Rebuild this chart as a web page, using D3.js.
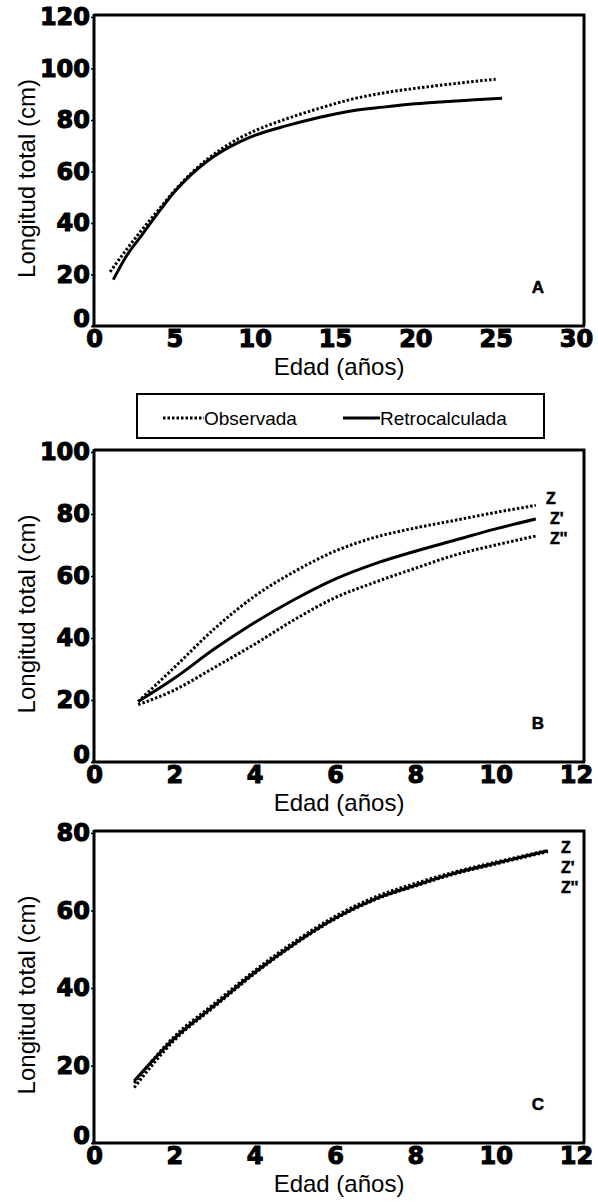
<!DOCTYPE html>
<html>
<head>
<meta charset="utf-8">
<script src="https://cdn.jsdelivr.net/npm/d3@7"></script>
<style>
  body { margin: 0; background: #fff; }
  svg { display: block; }
  .tick text { font-family: "DejaVu Sans", sans-serif; font-weight: bold; font-size: 24px; fill: #000; stroke: #000; stroke-width: 1.1px; }
  .title { font-family: "Liberation Sans", Arial, sans-serif; font-size: 24px; fill: #000; }
  .tag { font-family: "Liberation Sans", Arial, sans-serif; font-weight: bold; fill: #000; stroke: #000; stroke-width: 0.5px; }
</style>
</head>
<body>
<div id="chart"></div>
<script>
// Panel A: observada vs retrocalculada
const ageA_obs = [1, 2, 3, 4, 5, 6, 7, 8, 9, 10, 12, 14, 16, 18, 20, 22, 24, 25];
const lenA_obs = [21, 29.5, 37.5, 45, 52.5, 59, 64.5, 69, 72.8, 75.8, 80.5, 84.5, 88, 90.5, 92.3, 93.8, 95.2, 95.8];
const ageA_ret = [1.2, 2, 3, 4, 5, 6, 7, 8, 9, 10, 12, 14, 16, 18, 20, 22, 24, 25.4];
const lenA_ret = [18, 27, 35.5, 44, 52, 58.5, 63.8, 68, 71.3, 74, 77.8, 81, 83.5, 85, 86.3, 87.2, 88, 88.4];

// Panel B: Z, Z', Z''
const ageB = [1.1, 2, 3, 4, 5, 6, 7, 8, 9, 10, 11];
const lenB_z = [19.5, 30.5, 43, 53.5, 61.5, 68, 72.5, 75.5, 78, 80.5, 82.8];
const lenB_z1 = [19.5, 27, 36.5, 45, 52.5, 59, 64, 68, 71.6, 75.2, 78.4];
const lenB_z2 = [18.5, 23.2, 30.5, 38, 46, 53, 58, 62.5, 66.8, 70, 72.9];

// Panel C: Z, Z', Z'' (nearly identical)
const ageC = [1, 2, 3, 4, 5, 6, 7, 8, 9, 10, 11.3];
const lenC_z = [15.5, 27.5, 36, 44.5, 52, 58.5, 63.5, 67, 70, 72.5, 75.5];
const lenC_z1 = [16, 27, 35.5, 44, 51.5, 58, 63, 66.5, 69.7, 72.2, 75.4];
const lenC_z2 = [14.3, 26.5, 35.2, 43.7, 51.3, 57.8, 62.8, 66.3, 69.5, 72, 75.2];

const ticksA_x = [0, 5, 10, 15, 20, 25, 30];
const ticksA_y = [0, 20, 40, 60, 80, 100, 120];
const ticksBC_x = [0, 2, 4, 6, 8, 10, 12];
const ticksB_y = [0, 20, 40, 60, 80, 100];
const ticksC_y = [0, 20, 40, 60, 80];

const legendLabels = ["Observada", "Retrocalculada"];
const zLabels = ["Z", "Z'", "Z''"];

const width = 598, height = 1202;
const svg = d3.select("#chart").append("svg")
    .attr("width", width)
    .attr("height", height);

const dotted = "2.5,2";

function zip(xs, ys) {
    return xs.map((x, i) => ({ x: x, y: ys[i] }));
}

function drawPanel(p) {
    const x = d3.scaleLinear().domain([0, p.xMax]).range([94, 576]);
    const y = d3.scaleLinear().domain([0, p.yMax]).range([p.bottom, p.top + 2]);

    const g = svg.append("g");

    // frame (top and right sides)
    g.append("path")
        .attr("d", `M94,${p.top}H584V${p.bottom}`)
        .attr("fill", "none")
        .attr("stroke", "#000")
        .attr("stroke-width", 3);

    // x axis
    const xAxis = g.append("g")
        .attr("transform", `translate(0,${p.bottom})`)
        .call(d3.axisBottom(x).tickValues(p.xTicks).tickSize(0).tickPadding(4));
    xAxis.select(".domain").attr("stroke-width", 3).attr("d", `M92,0H585`);

    // y axis
    const yAxis = g.append("g")
        .attr("transform", "translate(94,0)")
        .call(d3.axisLeft(y).tickValues(p.yTicks).tickSize(3).tickPadding(1));
    yAxis.select(".domain").attr("stroke-width", 3).attr("d", `M0,${p.top - 1}V${p.bottom + 1}`);
    yAxis.selectAll(".tick line").attr("stroke-width", 1.5);
    yAxis.selectAll(".tick").filter(d => d === 0).select("text").attr("y", -7);

    // lines
    const line = d3.line()
        .x(d => x(d.x))
        .y(d => y(d.y))
        .curve(d3.curveMonotoneX);

    p.series.forEach(s => {
        g.append("path")
            .datum(zip(s.ages, s.values))
            .attr("fill", "none")
            .attr("stroke", "#000")
            .attr("stroke-width", 3)
            .attr("stroke-dasharray", s.dash ? dotted : null)
            .attr("d", line);
    });

    // axis titles
    g.append("text")
        .attr("class", "title")
        .attr("text-anchor", "middle")
        .attr("x", 339)
        .attr("y", p.bottom + 49)
        .text("Edad (años)");

    g.append("text")
        .attr("class", "title")
        .attr("text-anchor", "middle")
        .attr("transform", `translate(35,${(p.top + p.bottom) / 2 + 8}) rotate(-90)`)
        .text("Longitud total (cm)");

    // panel letter
    g.append("text")
        .attr("class", "tag")
        .attr("text-anchor", "middle")
        .attr("x", 538)
        .attr("y", p.bottom - 33)
        .attr("font-size", 17)
        .text(p.letter);

    // Z labels
    if (p.zPos) {
        p.zPos.forEach((pos, i) => {
            g.append("text")
                .attr("class", "tag")
                .attr("x", pos[0])
                .attr("y", pos[1])
                .attr("font-size", 16)
                .text(zLabels[i]);
        });
    }
}

drawPanel({
    letter: "A", top: 15, bottom: 326, xMax: 30, yMax: 120,
    xTicks: ticksA_x, yTicks: ticksA_y,
    series: [
        { ages: ageA_obs, values: lenA_obs, dash: true },
        { ages: ageA_ret, values: lenA_ret, dash: false }
    ]
});

drawPanel({
    letter: "B", top: 450, bottom: 762, xMax: 12, yMax: 100,
    xTicks: ticksBC_x, yTicks: ticksB_y,
    series: [
        { ages: ageB, values: lenB_z, dash: true },
        { ages: ageB, values: lenB_z1, dash: false },
        { ages: ageB, values: lenB_z2, dash: true }
    ],
    zPos: [[546, 504], [550, 524], [550, 544]]
});

drawPanel({
    letter: "C", top: 831, bottom: 1143, xMax: 12, yMax: 80,
    xTicks: ticksBC_x, yTicks: ticksC_y,
    series: [
        { ages: ageC, values: lenC_z, dash: true },
        { ages: ageC, values: lenC_z2, dash: true },
        { ages: ageC, values: lenC_z1, dash: false }
    ],
    zPos: [[561, 853], [561, 873], [561, 893]]
});

// Legend
const legend = svg.append("g");
legend.append("rect")
    .attr("x", 137).attr("y", 394)
    .attr("width", 407).attr("height", 44)
    .attr("fill", "none")
    .attr("stroke", "#000")
    .attr("stroke-width", 2);

const legendItems = [
    { label: legendLabels[0], x0: 163, x1: 204, dash: true },
    { label: legendLabels[1], x0: 343, x1: 380, dash: false }
];
legendItems.forEach(d => {
    legend.append("line")
        .attr("x1", d.x0).attr("x2", d.x1)
        .attr("y1", 418).attr("y2", 418)
        .attr("stroke", "#000")
        .attr("stroke-width", 3)
        .attr("stroke-dasharray", d.dash ? dotted : null);
    legend.append("text")
        .attr("x", d.x1)
        .attr("y", 425)
        .attr("font-family", "Liberation Sans, Arial, sans-serif")
        .attr("font-size", 19)
        .text(d.label);
});
</script>
</body>
</html>
